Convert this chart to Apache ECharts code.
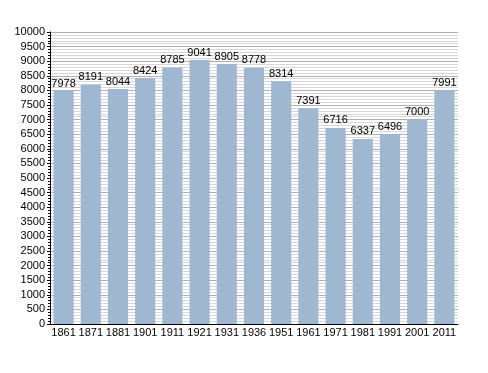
<!DOCTYPE html>
<html><head><meta charset="utf-8">
<script src="https://cdn.jsdelivr.net/npm/echarts@6/dist/echarts.min.js"></script>
<style>html,body{margin:0;padding:0;background:#fff}#c{width:488px;height:373px}</style>
</head><body><div id="c"></div>
<script>
const years = ['1861','1871','1881','1901','1911','1921','1931','1936','1951','1961','1971','1981','1991','2001','2011'];
const population = [7978,8191,8044,8424,8785,9041,8905,8778,8314,7391,6716,6337,6496,7000,7991];
const yMin = 0, yMax = 10000, yStep = 500;

const chart = echarts.init(document.getElementById('c'), null, {renderer:'canvas'});
const font = 'Liberation Sans, Arial, sans-serif';
chart.setOption({
  animation:false,
  grid:{left:50,right:30,top:32,bottom:49},
  xAxis:{type:'category',data:years,
    axisLine:{lineStyle:{color:'#000',width:1}},
    axisTick:{show:false},
    axisLabel:{color:'#000',fontFamily:font,fontSize:11,margin:3,interval:0}},
  yAxis:{type:'value',min:yMin,max:yMax,interval:yStep,
    axisLine:{show:true,lineStyle:{color:'#000'}},
    axisTick:{show:true,length:3,lineStyle:{color:'#000'}},
    minorTick:{show:true,splitNumber:5,length:2,lineStyle:{color:'#000'}},
    splitLine:{show:true,lineStyle:{color:'#b0b0b0',width:1}},
    minorSplitLine:{show:true,lineStyle:{color:'#d8d8d8',width:1}},
    axisLabel:{color:'#000',fontFamily:font,fontSize:11,margin:5,formatter:v=>String(v)}},
  series:[{type:'bar',data:population,barCategoryGap:'26%',
    itemStyle:{color:'#9fb7d1'},
    label:{show:true,position:'top',color:'#000',fontFamily:font,fontSize:11,distance:2}}]
});
</script></body></html>
